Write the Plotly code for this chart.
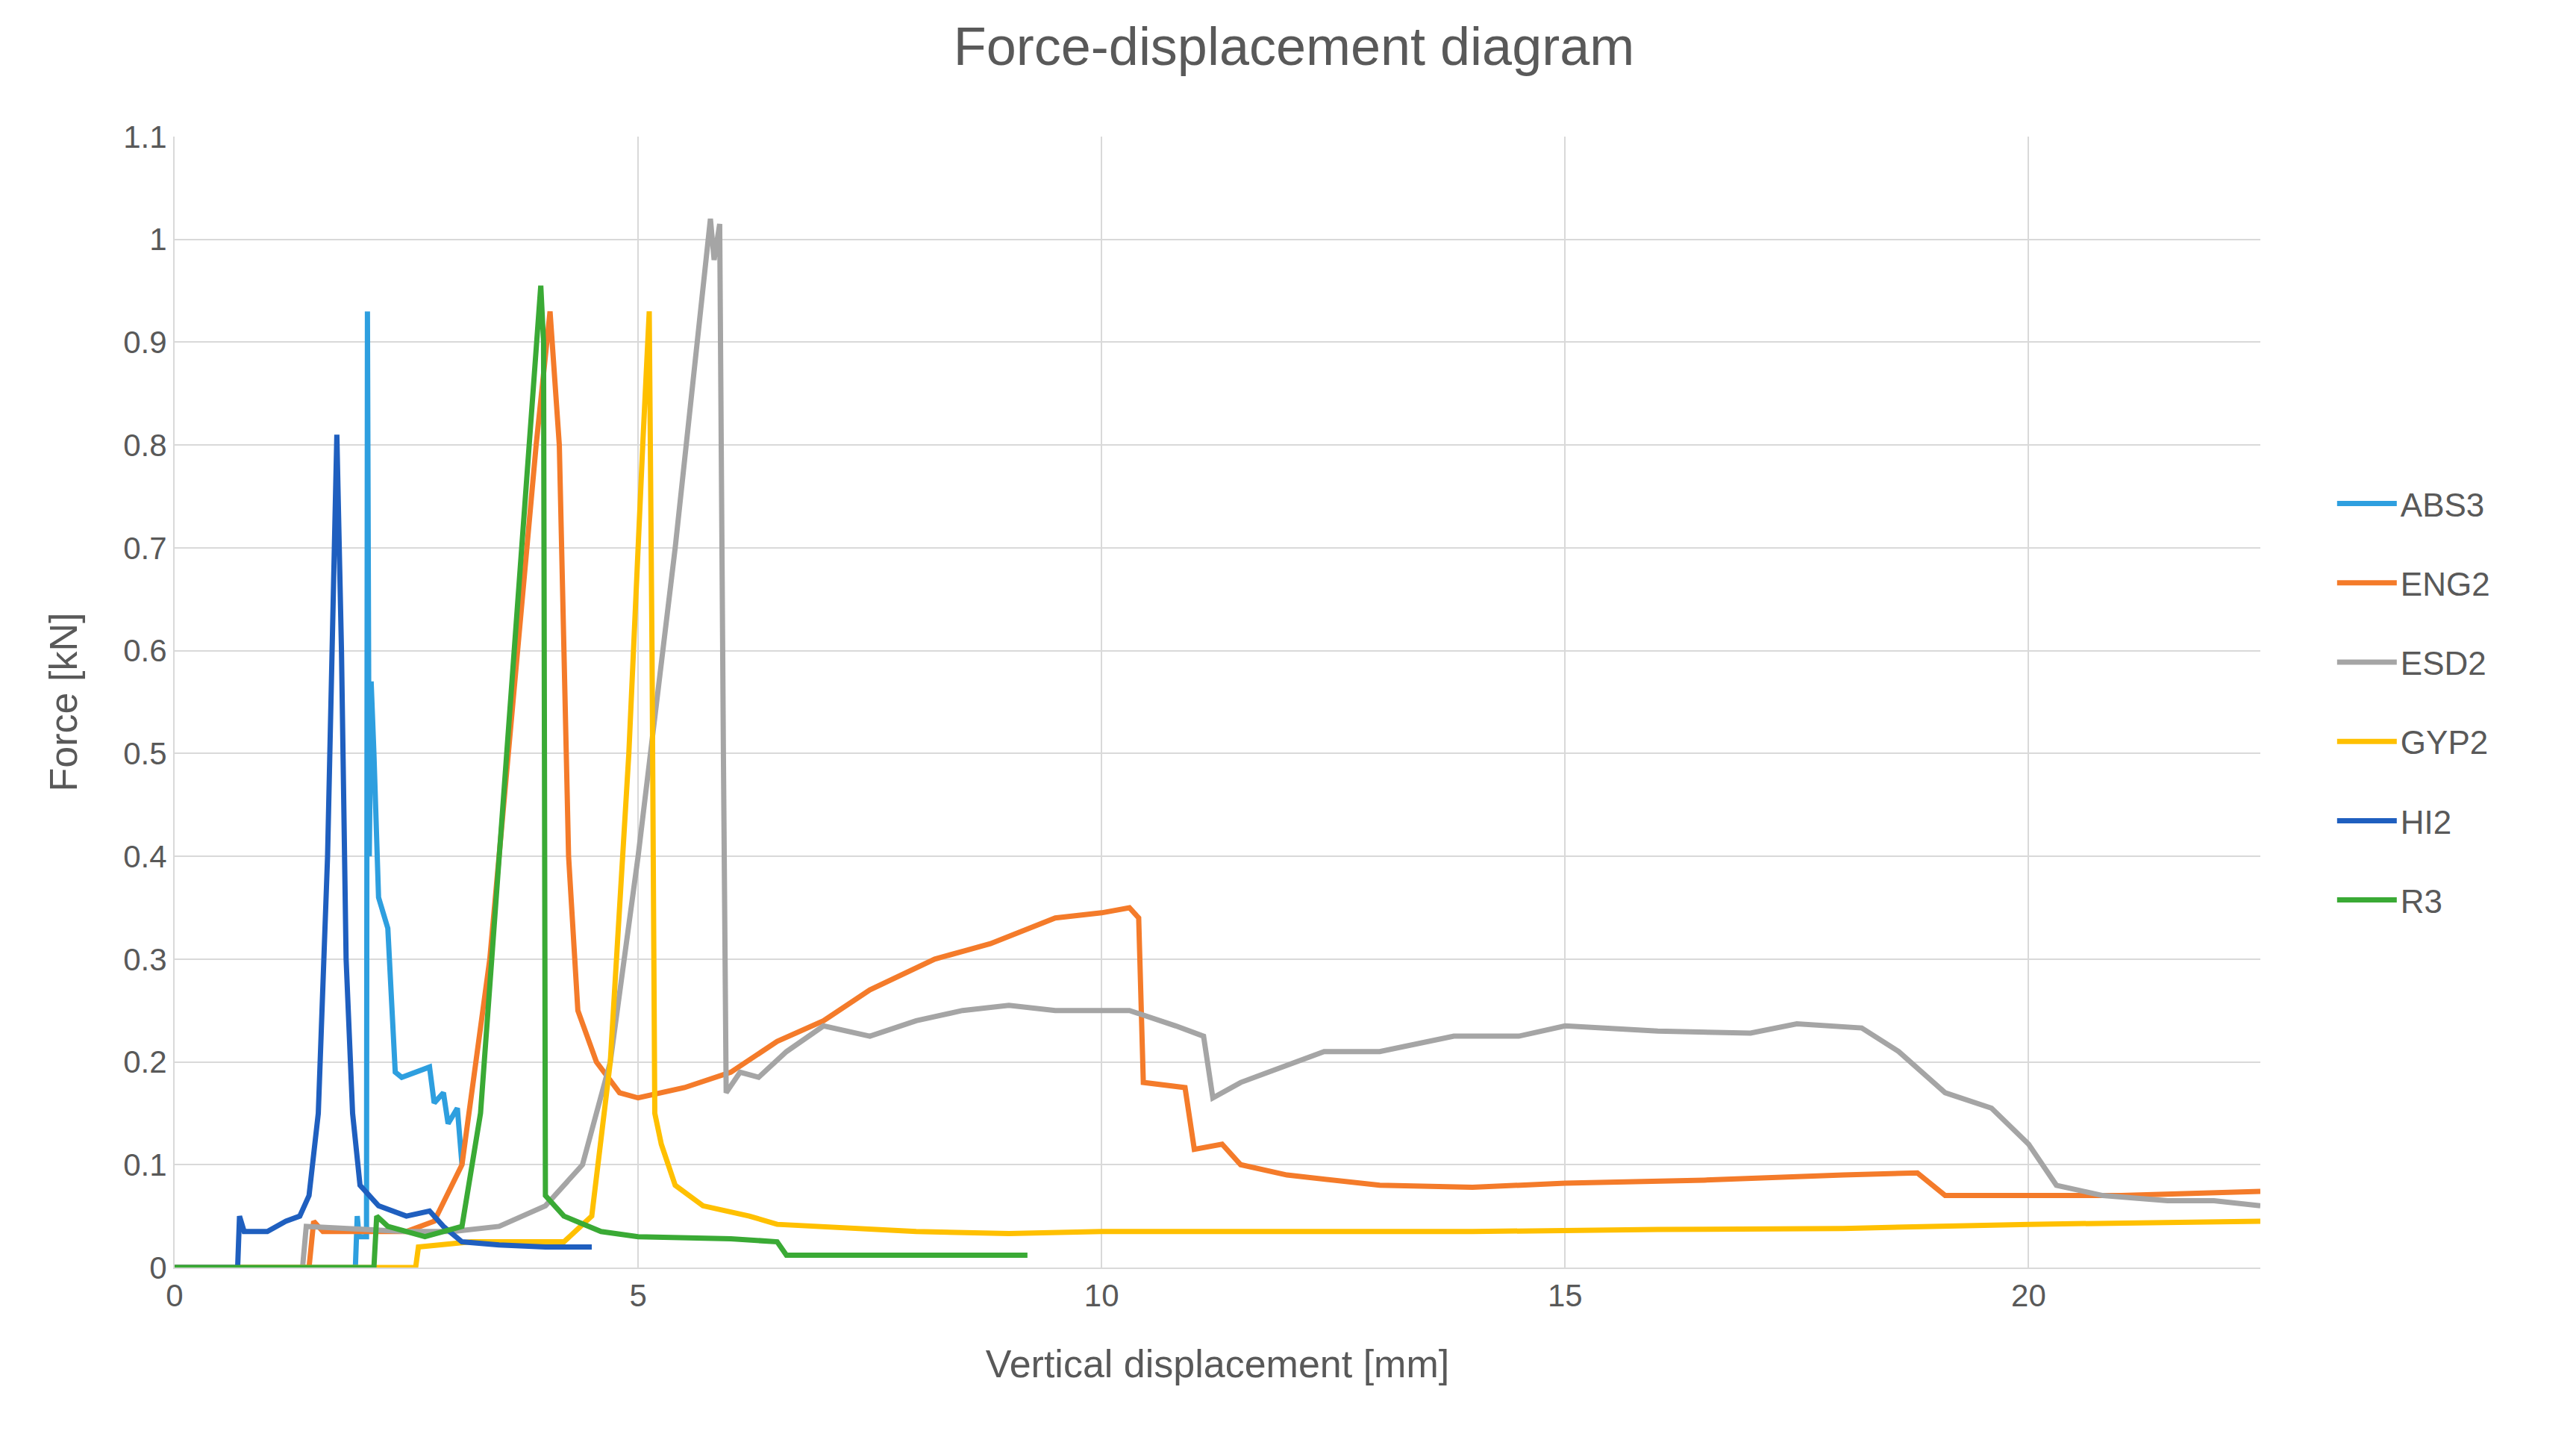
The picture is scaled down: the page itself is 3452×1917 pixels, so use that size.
import plotly.graph_objects as go

# series (displacement mm, force kN)
abs3_x = [0, 1.95, 1.97, 1.99, 2.07, 2.08, 2.1, 2.12, 2.15, 2.2, 2.3, 2.38, 2.45, 2.6, 2.75, 2.8, 2.9, 2.95, 3.05, 3.1]
abs3_y = [0, 0, 0.05, 0.03, 0.03, 0.93, 0.4, 0.57, 0.5, 0.36, 0.33, 0.19, 0.185, 0.19, 0.195, 0.16, 0.17, 0.14, 0.155, 0.1]

eng2_x = [0, 1.45, 1.5, 1.6, 2.5, 2.8, 3.1, 3.4, 3.7, 3.9, 4.05, 4.15, 4.25, 4.35, 4.55, 4.8, 5.0, 5.5, 6.0, 6.5, 7.0, 7.5, 8.2, 8.8, 9.5, 10.0, 10.3, 10.4, 10.45, 10.9, 11.0, 11.3, 11.5, 12.0, 13.0, 14.0, 15.0, 16.5, 18.0, 18.8, 19.1, 21.0, 22.5]
eng2_y = [0, 0, 0.045, 0.035, 0.035, 0.045, 0.1, 0.3, 0.6, 0.8, 0.93, 0.8, 0.4, 0.25, 0.2, 0.17, 0.165, 0.175, 0.19, 0.22, 0.24, 0.27, 0.3, 0.315, 0.34, 0.345, 0.35, 0.34, 0.18, 0.175, 0.115, 0.12, 0.1, 0.09, 0.08, 0.078, 0.082, 0.085, 0.09, 0.092, 0.07, 0.07, 0.074]

esd2_x = [0, 1.38, 1.42, 2.5, 3.0, 3.5, 4.0, 4.4, 4.7, 5.0, 5.4, 5.7, 5.78, 5.82, 5.88, 5.92, 5.95, 6.1, 6.3, 6.6, 7.0, 7.5, 8.0, 8.5, 9.0, 9.5, 10.3, 10.8, 11.1, 11.2, 11.5, 11.8, 12.4, 13.0, 13.8, 14.5, 15.0, 16.0, 17.0, 17.5, 18.2, 18.6, 19.1, 19.6, 20.0, 20.3, 20.8, 21.5, 22.0, 22.5]
esd2_y = [0, 0, 0.04, 0.035, 0.035, 0.04, 0.06, 0.1, 0.2, 0.4, 0.7, 0.95, 1.02, 0.98, 1.015, 0.5, 0.17, 0.19, 0.185, 0.21, 0.235, 0.225, 0.24, 0.25, 0.255, 0.25, 0.25, 0.235, 0.225, 0.165, 0.18, 0.19, 0.21, 0.21, 0.225, 0.225, 0.235, 0.23, 0.228, 0.237, 0.233, 0.21, 0.17, 0.155, 0.12, 0.08, 0.07, 0.065, 0.065, 0.06]

gyp2_x = [0, 2.6, 2.63, 3.2, 4.2, 4.5, 4.7, 4.9, 5.05, 5.12, 5.15, 5.18, 5.25, 5.4, 5.7, 6.2, 6.5, 7.0, 8.0, 9.0, 10.0, 12.0, 14.0, 16.0, 18.0, 20.0, 22.5]
gyp2_y = [0, 0, 0.02, 0.025, 0.025, 0.05, 0.2, 0.5, 0.8, 0.93, 0.6, 0.15, 0.12, 0.08, 0.06, 0.05, 0.042, 0.04, 0.035, 0.033, 0.035, 0.035, 0.035, 0.037, 0.038, 0.042, 0.045]

hi2_x = [0, 0.68, 0.7, 0.75, 1.0, 1.2, 1.35, 1.45, 1.55, 1.65, 1.75, 1.8, 1.85, 1.92, 2.0, 2.2, 2.5, 2.75, 2.9, 3.1, 3.5, 4.0, 4.5]
hi2_y = [0, 0, 0.05, 0.035, 0.035, 0.045, 0.05, 0.07, 0.15, 0.4, 0.81, 0.6, 0.3, 0.15, 0.08, 0.06, 0.05, 0.055, 0.04, 0.025, 0.022, 0.02, 0.02]

r3_x = [0, 2.15, 2.18, 2.3, 2.7, 3.1, 3.3, 3.5, 3.75, 3.95, 3.98, 4.0, 4.2, 4.6, 5.0, 6.0, 6.5, 6.6, 7.5, 9.2]
r3_y = [0, 0, 0.05, 0.04, 0.03, 0.04, 0.15, 0.4, 0.7, 0.955, 0.9, 0.07, 0.05, 0.035, 0.03, 0.028, 0.025, 0.012, 0.012, 0.012]

series = [
    ("ABS3", abs3_x, abs3_y, "#2E9FDF"),
    ("ENG2", eng2_x, eng2_y, "#F47B2A"),
    ("ESD2", esd2_x, esd2_y, "#A5A5A5"),
    ("GYP2", gyp2_x, gyp2_y, "#FFC000"),
    ("HI2", hi2_x, hi2_y, "#1F5FBF"),
    ("R3", r3_x, r3_y, "#3AAA35"),
]

fig = go.Figure()
for name, xs, ys, color in series:
    fig.add_trace(go.Scatter(x=xs, y=ys, mode="lines", name=name, legendgroup=name,
                             line=dict(color=color, width=7)))

axis_font = dict(family="Liberation Sans", size=42, color="#595959")
title_font = dict(family="Liberation Sans", size=52, color="#595959")
fig.update_layout(
    width=3452, height=1917,
    paper_bgcolor="white", plot_bgcolor="white",
    margin=dict(l=226, r=431, t=175, b=227),
    title=dict(text="Force-displacement diagram", x=0.5, xanchor="center", y=0.985,
               font=dict(family="Liberation Sans", size=72, color="#595959")),
    legend=dict(x=1.035, y=0.5, yanchor="middle", font=dict(family="Liberation Sans", size=44, color="#595959"),
                tracegroupgap=46, itemwidth=80),
    font=axis_font,
)
fig.update_xaxes(range=[0, 22.5], dtick=5, showgrid=True, gridcolor="#D9D9D9", gridwidth=2,
                 zeroline=False, showline=True, linecolor="#D9D9D9", linewidth=2,
                 ticks="", tickfont=axis_font,
                 title=dict(text="Vertical displacement [mm]", font=title_font, standoff=50))
fig.update_yaxes(range=[0, 1.1], dtick=0.1, showgrid=True, gridcolor="#D9D9D9", gridwidth=2,
                 zeroline=False, showline=True, linecolor="#D9D9D9", linewidth=2,
                 ticks="", tickfont=axis_font, tickformat="~g",
                 title=dict(text="Force [kN]", font=title_font, standoff=45))

fig.write_html("out.html")
